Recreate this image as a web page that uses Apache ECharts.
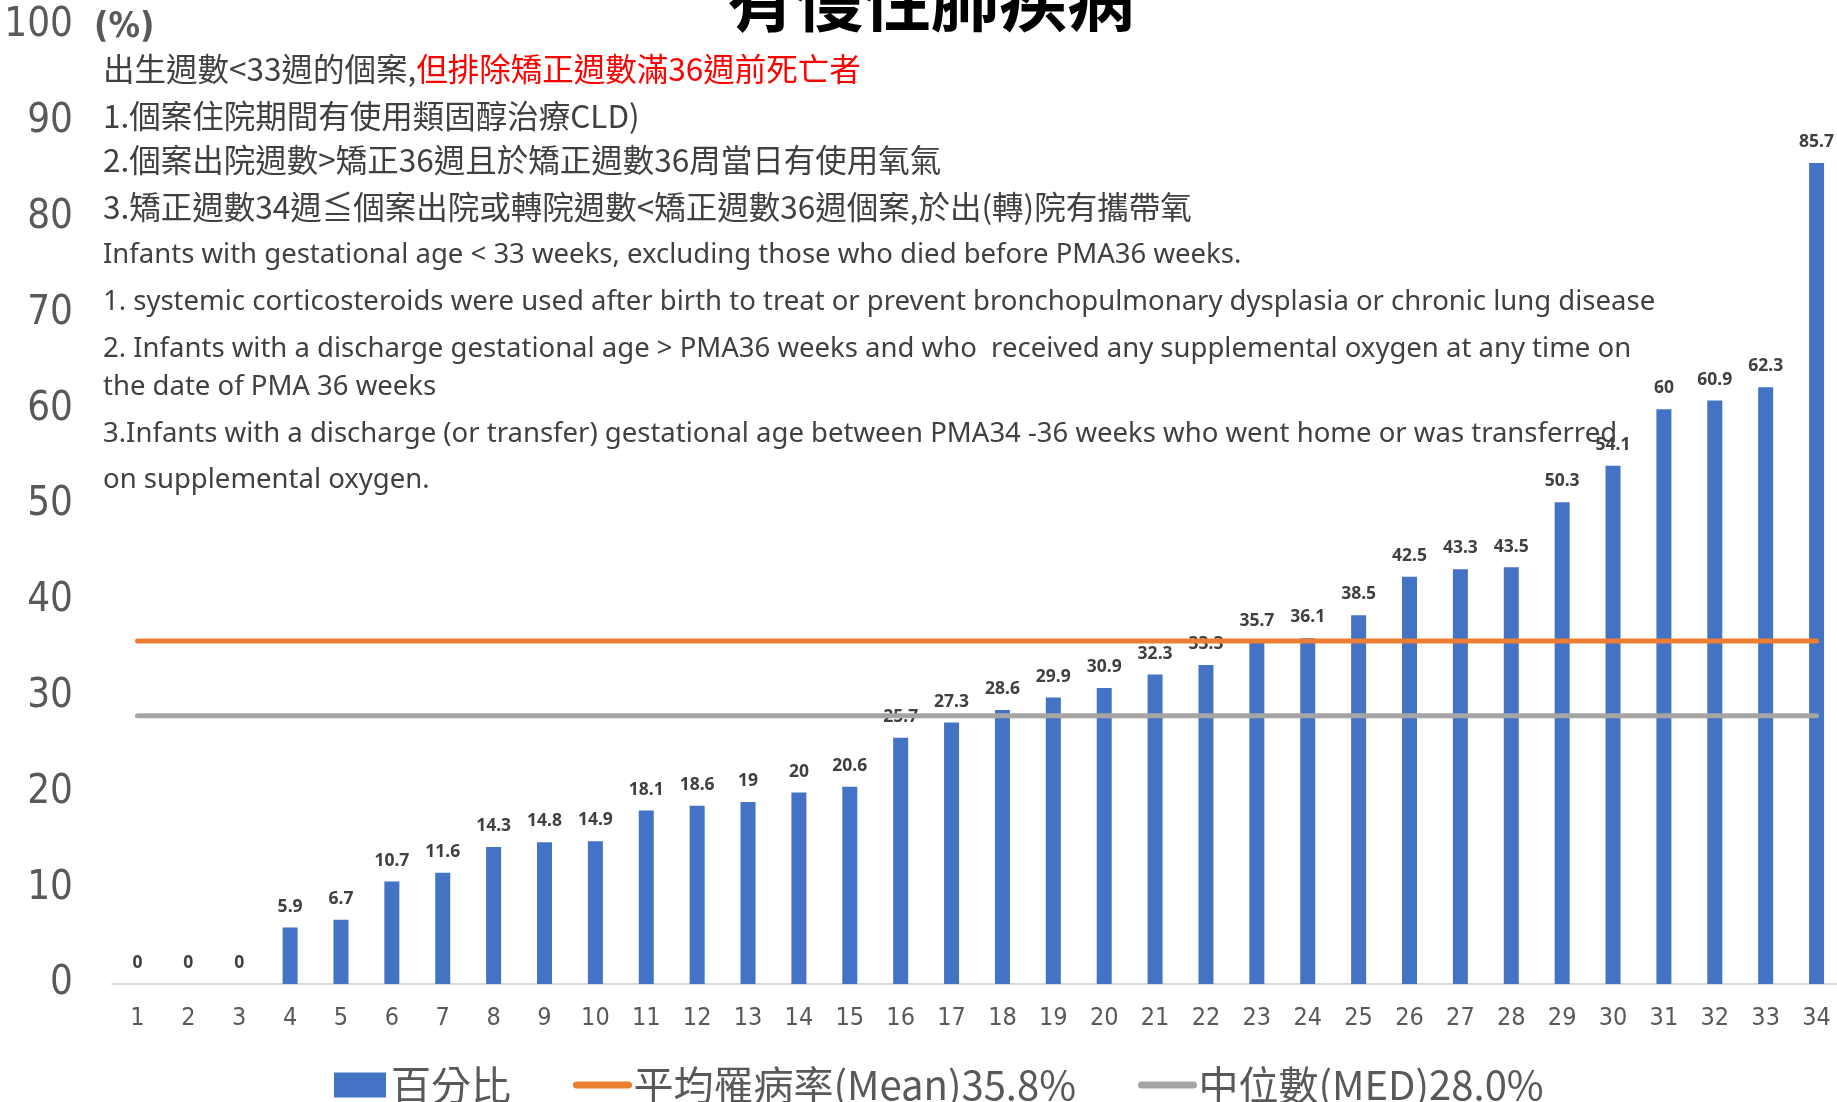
<!DOCTYPE html>
<html>
<head>
<meta charset="utf-8">
<title>有慢性肺疾病</title>
<script src="https://cdn.jsdelivr.net/npm/echarts@6/dist/echarts.min.js"></script>
<style>
  html, body { margin: 0; padding: 0; background: #fff; }
  #chart { width: 1837px; height: 1102px; }
</style>
</head>
<body>
<div id="chart"></div>
<script>
// 資料
var categories = ['1','2','3','4','5','6','7','8','9','10','11','12','13','14','15','16','17',
  '18','19','20','21','22','23','24','25','26','27','28','29','30','31','32','33','34'];
var percentValues = [0, 0, 0, 5.9, 6.7, 10.7, 11.6, 14.3, 14.8, 14.9, 18.1, 18.6, 19, 20, 20.6,
  25.7, 27.3, 28.6, 29.9, 30.9, 32.3, 33.3, 35.7, 36.1, 38.5, 42.5, 43.3, 43.5, 50.3, 54.1,
  60, 60.9, 62.3, 85.7];
var meanValue = 35.8;
var medianValue = 28.0;
var yTicks = [0, 10, 20, 30, 40, 50, 60, 70, 80, 90, 100];

var seriesNames = ['百分比', '平均罹病率(Mean)35.8%', '中位數(MED)28.0%'];

var cjkFont = "'Noto Sans CJK TC', 'Noto Sans', sans-serif";
var latinFont = "'Noto Sans', 'Noto Sans CJK TC', sans-serif";
var narrowFont = "'Liberation Sans Narrow', 'DejaVu Sans Condensed', 'Noto Sans', sans-serif";

// 說明文字
var noteLines = [
  { y: 116, font: cjkFont, size: 31.5, text: '1.個案住院期間有使用類固醇治療CLD)' },
  { y: 160, font: cjkFont, size: 31.5, text: '2.個案出院週數>矯正36週且於矯正週數36周當日有使用氧氣' },
  { y: 207, font: cjkFont, size: 31.5, text: '3.矯正週數34週≦個案出院或轉院週數<矯正週數36週個案,於出(轉)院有攜帶氧' },
  { y: 255, font: latinFont, size: 27.5, text: 'Infants with gestational age < 33 weeks, excluding those who died before PMA36 weeks.' },
  { y: 302, font: latinFont, size: 27.5, text: '1. systemic corticosteroids were used after birth to treat or prevent bronchopulmonary dysplasia or chronic lung disease' },
  { y: 349, font: latinFont, size: 27.5, text: '2. Infants with a discharge gestational age > PMA36 weeks and who  received any supplemental oxygen at any time on' },
  { y: 387, font: latinFont, size: 27.5, text: 'the date of PMA 36 weeks' },
  { y: 434, font: latinFont, size: 27.5, text: '3.Infants with a discharge (or transfer) gestational age between PMA34 -36 weeks who went home or was transferred' },
  { y: 480, font: latinFont, size: 27.5, text: 'on supplemental oxygen.' }
];

var chart = echarts.init(document.getElementById('chart'));

var graphics = [
  {
    type: 'text', x: 931, y: 34, z: 100,
    style: {
      text: '有慢性肺疾病', fill: '#000', align: 'center', verticalAlign: 'bottom',
      font: 'bold 68px ' + cjkFont
    }
  },
  {
    type: 'text', x: 94, y: 28,
    style: {
      text: '(%)', fill: '#595959', align: 'left', verticalAlign: 'middle',
      font: 'bold 35px ' + narrowFont
    }
  },
  {
    type: 'text', x: 103, y: 69,
    style: {
      text: '{a|出生週數<33週的個案,}{b|但排除矯正週數滿36週前死亡者}',
      verticalAlign: 'middle', align: 'left',
      rich: {
        a: { fill: '#404040', fontSize: 31.5, fontFamily: cjkFont },
        b: { fill: '#FF0000', fontSize: 31.5, fontFamily: cjkFont }
      }
    }
  }
];

noteLines.forEach(function (ln) {
  graphics.push({
    type: 'text', x: 103, y: ln.y,
    style: {
      text: ln.text, fill: '#404040', align: 'left', verticalAlign: 'middle',
      font: ln.size + 'px ' + ln.font
    }
  });
});

chart.setOption({
  animation: false,
  backgroundColor: '#fff',
  grid: {
    left: 112, top: 26, width: 1730, bottom: 118,
    containLabel: false, outerBoundsMode: 'none'
  },
  legend: {
    left: 329, top: 1060,
    itemWidth: 52, itemHeight: 25, itemGap: 62,
    data: [
      { name: seriesNames[0], icon: 'rect' },
      { name: seriesNames[1], itemStyle: { opacity: 0 }, lineStyle: { width: 7, cap: 'round' } },
      { name: seriesNames[2], itemStyle: { opacity: 0 }, lineStyle: { width: 7, cap: 'round' } }
    ],
    textStyle: { fontSize: 40, color: '#595959', fontFamily: cjkFont }
  },
  xAxis: {
    type: 'category',
    data: categories,
    axisLine: { lineStyle: { color: '#D9D9D9', width: 2 } },
    axisTick: { show: false },
    axisLabel: { color: '#595959', fontSize: 25, margin: 22, fontFamily: narrowFont }
  },
  yAxis: {
    type: 'value',
    min: yTicks[0], max: yTicks[yTicks.length - 1], interval: 10,
    splitLine: { show: false },
    axisLine: { show: false },
    axisLabel: {
      color: '#595959', fontSize: 40, margin: 39, fontFamily: narrowFont,
      padding: [7, 0, 0, 0]
    }
  },
  graphic: graphics,
  series: [
    {
      name: seriesNames[0],
      type: 'bar',
      data: percentValues,
      barWidth: 15,
      itemStyle: { color: '#4472C4' },
      label: {
        show: true, position: 'top', distance: 12,
        color: '#404040', fontSize: 17.5, fontWeight: 'bold', fontFamily: latinFont
      },
      z: 2
    },
    {
      name: seriesNames[1],
      type: 'line',
      data: [[categories[0], meanValue], [categories[categories.length - 1], meanValue]],
      symbol: 'none',
      lineStyle: { color: '#ED7D31', width: 5, cap: 'round' },
      itemStyle: { color: '#ED7D31' },
      z: 3
    },
    {
      name: seriesNames[2],
      type: 'line',
      data: [[categories[0], medianValue], [categories[categories.length - 1], medianValue]],
      symbol: 'none',
      lineStyle: { color: '#A5A5A5', width: 5, cap: 'round' },
      itemStyle: { color: '#A5A5A5' },
      z: 3
    }
  ]
});

window.addEventListener('resize', function () {
  chart.resize();
});
</script>
</body>
</html>
